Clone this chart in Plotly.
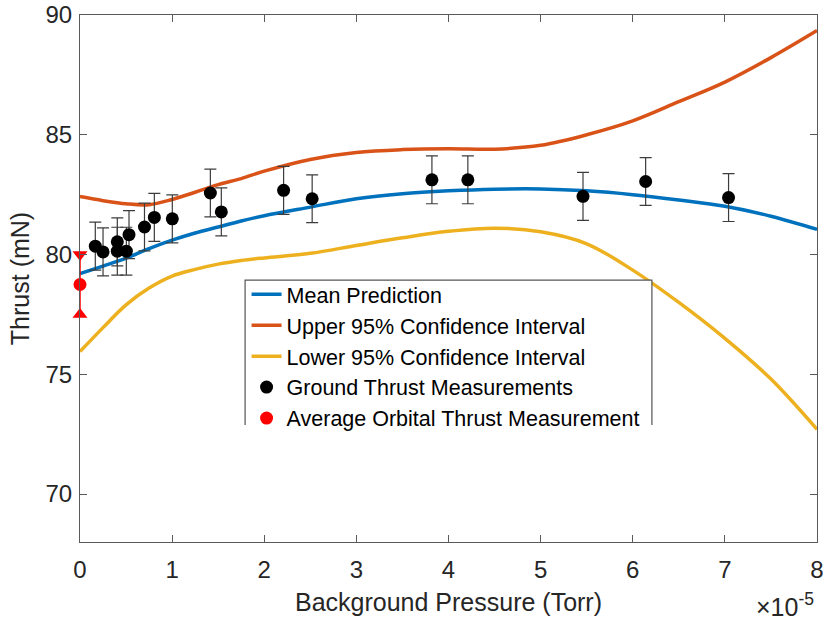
import plotly.graph_objects as go

# Background pressure in units of 1e-5 Torr
curve_pressure = [0.0, 0.25, 0.5, 0.75, 1.0, 1.25, 1.5, 1.75, 2.0, 2.5, 3.0, 3.5,
                  4.0, 4.5, 5.0, 5.5, 6.0, 6.5, 7.0, 7.5, 8.0]

# Model prediction and its 95% confidence bounds (mN)
mean_prediction = [79.2, 79.52, 79.85, 80.25, 80.6, 80.9, 81.15, 81.4, 81.62, 81.98,
                   82.33, 82.54, 82.66, 82.73, 82.74, 82.66, 82.5, 82.28, 82.02, 81.6, 81.05]
upper_ci = [82.42, 82.25, 82.12, 82.08, 82.3, 82.6, 82.92, 83.17, 83.48, 83.97,
            84.26, 84.38, 84.42, 84.4, 84.56, 85.0, 85.58, 86.38, 87.2, 88.22, 89.35]
lower_ci = [75.95, 76.95, 77.9, 78.6, 79.1, 79.38, 79.6, 79.75, 79.86, 80.05,
            80.38, 80.7, 80.97, 81.1, 80.95, 80.45, 79.35, 78.0, 76.5, 74.8, 72.7]

# Ground test measurements
ground_pressure = [0.166, 0.25, 0.405, 0.405, 0.503, 0.532, 0.70, 0.807, 1.002, 1.415,
                   1.534, 2.21, 2.52, 3.82, 4.21, 5.46, 6.14, 7.04]
ground_thrust = [80.35, 80.11, 80.53, 80.14, 80.14, 80.83, 81.15, 81.55, 81.49, 82.57,
                 81.78, 82.68, 82.33, 83.12, 83.12, 82.43, 83.05, 82.38]
ground_error = [1.0] * len(ground_thrust)

# Average on-orbit measurement
orbital_pressure = 0.0
orbital_thrust = 78.75
orbital_error = 1.25

BLUE = "#0072BD"
ORANGE = "#D95319"
YELLOW = "#EDB120"
FONT = "Liberation Sans, Arial, sans-serif"
TEXT = "#262626"
AXIS = "#5a5a5a"

fig = go.Figure()

fig.add_trace(go.Scatter(x=curve_pressure, y=mean_prediction, mode="lines",
                         name="Mean Prediction",
                         line=dict(color=BLUE, width=3.5, shape="spline")))
fig.add_trace(go.Scatter(x=curve_pressure, y=upper_ci, mode="lines",
                         name="Upper 95% Confidence Interval",
                         line=dict(color=ORANGE, width=3.5, shape="spline")))
fig.add_trace(go.Scatter(x=curve_pressure, y=lower_ci, mode="lines",
                         name="Lower 95% Confidence Interval",
                         line=dict(color=YELLOW, width=3.5, shape="spline")))

fig.add_trace(go.Scatter(x=ground_pressure, y=ground_thrust, mode="markers",
                         name="Ground Thrust Measurements",
                         marker=dict(color="black", size=13),
                         error_y=dict(type="data", array=ground_error, visible=True,
                                      color="#3c3c3c", thickness=1.2, width=6)))

# Orbital error bar with triangle end markers
fig.add_trace(go.Scatter(x=[orbital_pressure, orbital_pressure],
                         y=[orbital_thrust + orbital_error, orbital_thrust - orbital_error],
                         mode="lines+markers", showlegend=False, cliponaxis=False,
                         line=dict(color="red", width=1.5),
                         marker=dict(color="red", size=13,
                                     symbol=["triangle-down", "triangle-up"])))
fig.add_trace(go.Scatter(x=[orbital_pressure], y=[orbital_thrust], mode="markers",
                         name="Average Orbital Thrust Measurement", cliponaxis=False,
                         marker=dict(color="red", size=13)))

# Legend frame (open at the bottom)
lx0, lx1, ly0, ly1 = 0.224, 0.776, 0.222, 0.497
fig.add_shape(type="rect", xref="paper", yref="paper", x0=lx0, x1=lx1, y0=ly0, y1=ly1,
              fillcolor="white", line=dict(width=0), layer="above")
fig.add_shape(type="path", xref="paper", yref="paper",
              path=f"M {lx0},{ly0} L {lx0},{ly1} L {lx1},{ly1} L {lx1},{ly0}",
              line=dict(color="#555555", width=1.2), layer="above")

fig.add_annotation(text="×10<sup>-5</sup>", xref="paper", yref="paper",
                   x=0.999, y=-0.12, xanchor="right", yanchor="middle",
                   showarrow=False, font=dict(family=FONT, size=25, color=TEXT))

axis_common = dict(showline=True, linecolor=AXIS, linewidth=1.2, mirror="ticks",
                   ticks="inside", ticklen=7, tickcolor=AXIS, tickwidth=1.2,
                   showgrid=False, zeroline=False, automargin=False,
                   ticklabeloverflow="allow",
                   tickfont=dict(family=FONT, size=24, color=TEXT))

fig.update_xaxes(range=[0, 8], dtick=1, tick0=0, ticklabelstandoff=6,
                 title=dict(text="Background Pressure (Torr)", standoff=11,
                            font=dict(family=FONT, size=25, color=TEXT)),
                 **axis_common)
fig.update_yaxes(range=[68, 90], tickvals=[70, 75, 80, 85, 90], ticklabelstandoff=2,
                 title=dict(text="Thrust (mN)", standoff=8,
                            font=dict(family=FONT, size=25, color=TEXT)),
                 **axis_common)

fig.update_layout(
    width=823, height=621,
    margin=dict(l=80, r=6, t=15, b=79),
    plot_bgcolor="white", paper_bgcolor="white",
    font=dict(family=FONT, color=TEXT),
    legend=dict(x=lx0 + 0.002, y=ly1 + 0.012, xanchor="left", yanchor="top",
                bgcolor="rgba(0,0,0,0)", borderwidth=0,
                font=dict(family=FONT, size=21.5, color="black"),
                itemwidth=30, tracegroupgap=0),
)

fig.write_html("out.html")
